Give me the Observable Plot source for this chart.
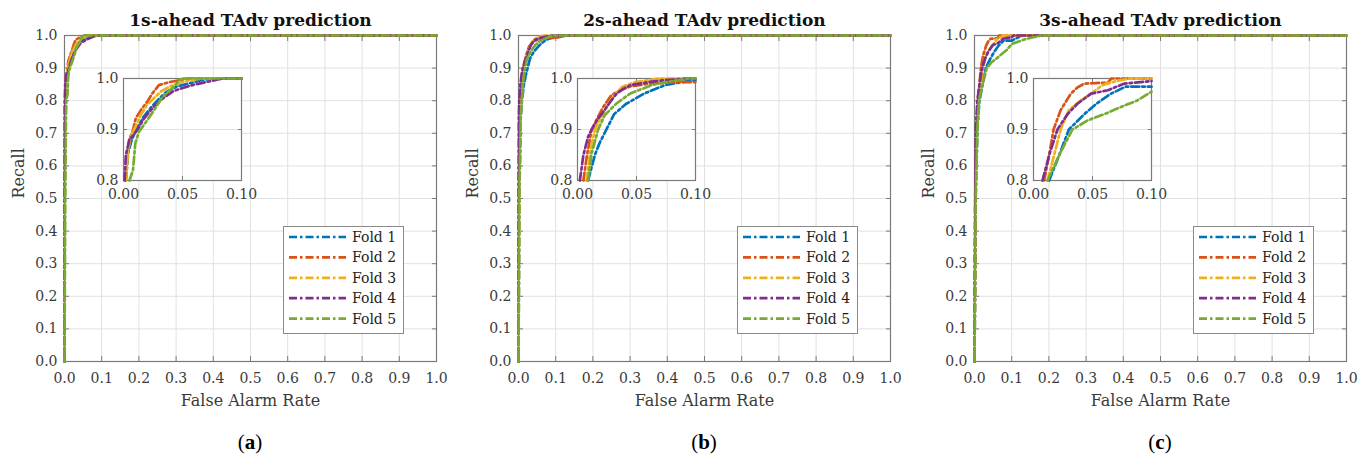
<!DOCTYPE html>
<html><head><meta charset="utf-8">
<script src="https://cdn.jsdelivr.net/npm/d3@7"></script>
<script src="https://cdn.jsdelivr.net/npm/@observablehq/plot@0.6"></script>
<style>
body{margin:0;background:#fff;}
#chart{position:relative;width:1372px;height:463px;font-family:"DejaVu Serif",serif;overflow:hidden;}
.panel{position:absolute;top:0;width:456px;height:463px;}
.panel svg{position:absolute;overflow:visible;}
.legend{position:absolute;left:283px;top:226px;width:121px;height:108px;border:1px solid #8a8a8a;background:#fff;box-sizing:border-box;}
.cap{position:absolute;top:429px;left:64px;width:372px;text-align:center;font-family:"Liberation Serif",serif;font-size:21px;line-height:26px;color:#000;}
</style></head><body><div id="chart"></div><script>
// ---- data ----
const titles = ["1s-ahead TAdv prediction", "2s-ahead TAdv prediction", "3s-ahead TAdv prediction"];
const captions = ["a", "b", "c"];
const folds = ["Fold 1", "Fold 2", "Fold 3", "Fold 4", "Fold 5"];
const axisTicks = [0, 0.1, 0.2, 0.3, 0.4, 0.5, 0.6, 0.7, 0.8, 0.9, 1.0];
const insetXTicks = [0, 0.05, 0.1];
const insetYTicks = [0.8, 0.9, 1.0];
const xLabel = "False Alarm Rate";
const yLabel = "Recall";

// [false alarm rate, recall]
const a_fold1 = [[0,0],[0.0005,0.5],[0.001,0.7],[0.002,0.8],[0.004,0.855],[0.007,0.88],[0.011,0.9],[0.017,0.925],[0.024,0.945],[0.03,0.96],[0.036,0.973],[0.045,0.984],[0.055,0.99],[0.065,0.996],[0.075,1],[0.1,1],[1,1]];
const a_fold2 = [[0,0],[0.0005,0.5],[0.001,0.7],[0.0015,0.8],[0.003,0.85],[0.005,0.882],[0.0076,0.895],[0.0104,0.922],[0.0147,0.938],[0.02,0.954],[0.0245,0.971],[0.03,0.987],[0.039,0.993],[0.049,0.997],[0.054,1],[0.1,1],[1,1]];
const a_fold3 = [[0,0],[0.0005,0.5],[0.001,0.7],[0.002,0.8],[0.004,0.86],[0.006,0.885],[0.01,0.905],[0.015,0.93],[0.02,0.948],[0.026,0.962],[0.032,0.975],[0.04,0.985],[0.05,0.993],[0.06,0.998],[0.068,1],[0.1,1],[1,1]];
const a_fold4 = [[0,0],[0.0005,0.5],[0.001,0.7],[0.001,0.8],[0.002,0.85],[0.005,0.88],[0.008,0.888],[0.012,0.9],[0.017,0.92],[0.022,0.935],[0.028,0.95],[0.034,0.962],[0.042,0.975],[0.051,0.982],[0.06,0.988],[0.07,0.993],[0.08,0.998],[0.085,1],[0.1,1],[1,1]];
const a_fold5 = [[0,0],[0.002,0.5],[0.004,0.75],[0.005,0.8],[0.008,0.82],[0.009,0.846],[0.01,0.873],[0.013,0.895],[0.02,0.918],[0.026,0.938],[0.033,0.964],[0.043,0.984],[0.047,0.997],[0.051,1],[0.1,1],[1,1]];

const b_fold1 = [[0,0],[0.002,0.5],[0.006,0.75],[0.009,0.8],[0.0147,0.85],[0.019,0.875],[0.0245,0.9],[0.031,0.93],[0.041,0.95],[0.056,0.97],[0.074,0.987],[0.094,0.995],[0.1,0.997],[0.11,1],[1,1]];
const b_fold2 = [[0,0],[0.001,0.5],[0.003,0.75],[0.005,0.8],[0.0078,0.846],[0.012,0.9],[0.0175,0.925],[0.0217,0.944],[0.0286,0.967],[0.033,0.973],[0.044,0.984],[0.061,0.99],[0.083,0.993],[0.1,0.993],[0.13,1],[1,1]];
const b_fold3 = [[0,0],[0.002,0.5],[0.005,0.75],[0.0078,0.8],[0.0106,0.853],[0.0147,0.9],[0.019,0.92],[0.023,0.938],[0.03,0.964],[0.038,0.984],[0.049,0.993],[0.069,1],[0.1,1],[1,1]];
const b_fold4 = [[0,0],[0.0005,0.6],[0.001,0.75],[0.002,0.8],[0.005,0.85],[0.009,0.886],[0.012,0.9],[0.017,0.92],[0.023,0.938],[0.028,0.955],[0.033,0.97],[0.039,0.98],[0.045,0.987],[0.06,0.993],[0.075,0.997],[0.094,1],[0.1,1],[1,1]];
const b_fold5 = [[0,0],[0.002,0.5],[0.006,0.75],[0.009,0.8],[0.012,0.853],[0.0175,0.9],[0.023,0.928],[0.033,0.951],[0.045,0.971],[0.063,0.987],[0.08,0.995],[0.094,1],[0.1,1],[1,1]];

const c_fold1 = [[0,0],[0.003,0.5],[0.008,0.72],[0.0133,0.8],[0.0218,0.85],[0.03,0.9],[0.043,0.93],[0.053,0.95],[0.0655,0.97],[0.078,0.984],[0.1,0.984],[0.115,0.993],[0.13,1],[1,1]];
const c_fold2 = [[0,0],[0.002,0.5],[0.005,0.72],[0.009,0.8],[0.0133,0.85],[0.017,0.9],[0.023,0.938],[0.0316,0.97],[0.037,0.982],[0.043,0.99],[0.063,0.992],[0.066,1],[0.1,1],[1,1]];
const c_fold3 = [[0,0],[0.003,0.5],[0.007,0.72],[0.0119,0.8],[0.0175,0.85],[0.023,0.9],[0.03,0.938],[0.04,0.957],[0.0486,0.97],[0.0585,0.987],[0.07,0.995],[0.082,1],[0.1,1],[1,1]];
const c_fold4 = [[0,0],[0.002,0.5],[0.004,0.72],[0.0076,0.8],[0.0133,0.85],[0.0203,0.9],[0.0288,0.93],[0.037,0.95],[0.0486,0.97],[0.063,0.977],[0.077,0.99],[0.1,0.995],[0.105,1],[1,1]];
const c_fold5 = [[0,0],[0.003,0.5],[0.008,0.72],[0.0119,0.8],[0.0218,0.85],[0.033,0.9],[0.046,0.918],[0.06,0.93],[0.074,0.944],[0.088,0.957],[0.1,0.974],[0.14,0.99],[0.18,1],[1,1]];

// ---- style ----
const colors = ["#0072BD", "#D95319", "#EDB120", "#7E2F8E", "#77AC30"];
const dash = "8,3,2.5,3";
const lineW = 2.7;
const gridColor = "#e1e1e1";
const axisColor = "#7a7a7a";
const fnt = "DejaVu Serif";

const panels = [
  {title: titles[0], cap: captions[0], curves: [a_fold1, a_fold2, a_fold3, a_fold4, a_fold5]},
  {title: titles[1], cap: captions[1], curves: [b_fold1, b_fold2, b_fold3, b_fold4, b_fold5]},
  {title: titles[2], cap: captions[2], curves: [c_fold1, c_fold2, c_fold3, c_fold4, c_fold5]}
];
const offsets = [0, 454, 910];
const f1 = d3.format(".1f"), f2 = d3.format(".2f");

function lines(curves, filter) {
  return curves.map((c, i) => Plot.line(filter ? c.filter(filter) : c, {
    x: d => d[0], y: d => d[1], stroke: colors[i], strokeWidth: lineW,
    strokeDasharray: dash, strokeLinejoin: "round"
  }));
}

const chart = document.getElementById("chart");
panels.forEach((p, i) => {
  const div = document.createElement("div");
  div.className = "panel";
  div.style.left = offsets[i] + "px";
  chart.appendChild(div);

  const main = Plot.plot({
    width: 456, height: 420,
    marginLeft: 64, marginRight: 20, marginTop: 35, marginBottom: 59,
    x: {domain: [0, 1]}, y: {domain: [0, 1]},
    style: {fontFamily: fnt, fontSize: "14px", color: "#3a3a3a", background: "transparent", overflow: "visible"},
    marks: [
      Plot.gridX(axisTicks, {stroke: gridColor, strokeOpacity: 1}),
      Plot.gridY(axisTicks, {stroke: gridColor, strokeOpacity: 1}),
      Plot.axisX(axisTicks, {anchor: "bottom", tickSize: -5, tickPadding: 17, tickFormat: f1, stroke: axisColor, label: null, fontSize: 14}),
      Plot.axisX(axisTicks, {anchor: "top", tickSize: -5, tickFormat: () => "", label: null, stroke: axisColor}),
      Plot.axisY(axisTicks, {anchor: "left", tickSize: -5, tickPadding: 12, tickFormat: f1, stroke: axisColor, label: null, fontSize: 14}),
      Plot.axisY(axisTicks, {anchor: "right", tickSize: -5, tickFormat: () => "", label: null, stroke: axisColor}),
      Plot.frame({stroke: axisColor, strokeWidth: 1.2}),
      ...lines(p.curves),
      Plot.text([p.title], {frameAnchor: "top", lineAnchor: "middle", dy: -15, fontWeight: "bold", fontSize: 17, fontFamily: fnt, fill: "#111"}),
      Plot.text([xLabel], {frameAnchor: "bottom", lineAnchor: "middle", dy: 39, fontSize: 16, fontFamily: fnt, fill: "#3a3a3a"}),
      Plot.text([yLabel], {frameAnchor: "left", lineAnchor: "middle", rotate: -90, dx: -46, fontSize: 16, fontFamily: fnt, fill: "#3a3a3a"})
    ]
  });
  main.style.left = "0px"; main.style.top = "0px";
  div.appendChild(main);

  const inset = Plot.plot({
    width: 172, height: 136,
    marginLeft: 40, marginRight: 14, marginTop: 10, marginBottom: 24,
    x: {domain: [0, 0.1]}, y: {domain: [0.8, 1]},
    style: {fontFamily: fnt, fontSize: "14px", color: "#3a3a3a", background: "transparent", overflow: "visible"},
    marks: [
      Plot.frame({fill: "white"}),
      Plot.gridX(insetXTicks, {stroke: gridColor, strokeOpacity: 1}),
      Plot.gridY(insetYTicks, {stroke: gridColor, strokeOpacity: 1}),
      Plot.axisX(insetXTicks, {anchor: "bottom", tickSize: -4, tickPadding: 13, tickFormat: f2, label: null, stroke: axisColor}),
      Plot.axisX(insetXTicks, {anchor: "top", tickSize: -4, tickFormat: () => "", label: null, stroke: axisColor}),
      Plot.axisY(insetYTicks, {anchor: "left", tickSize: -4, tickPadding: 9, tickFormat: f1, label: null, stroke: axisColor}),
      Plot.axisY(insetYTicks, {anchor: "right", tickSize: -4, tickFormat: () => "", label: null, stroke: axisColor}),
      Plot.frame({stroke: axisColor, strokeWidth: 1.2}),
      ...lines(p.curves, d => d[0] <= 0.1 && d[1] >= 0.8)
    ]
  });
  inset.style.left = "83px"; inset.style.top = "68px";
  div.appendChild(inset);

  // legend
  const lg = document.createElement("div");
  lg.className = "legend";
  div.appendChild(lg);
  const svg = d3.select(lg).append("svg").attr("width", 119).attr("height", 106).style("left", "0px").style("top", "0px");
  folds.forEach((name, k) => {
    const yy = 10 + k * 20.4;
    svg.append("line").attr("x1", 5).attr("x2", 62).attr("y1", yy).attr("y2", yy)
      .attr("stroke", colors[k]).attr("stroke-width", lineW).attr("stroke-dasharray", dash);
    svg.append("text").attr("x", 68).attr("y", yy).attr("dy", "0.35em")
      .attr("font-family", fnt).attr("font-size", 14).attr("fill", "#222").text(name);
  });

  const cap = document.createElement("div");
  cap.className = "cap";
  cap.innerHTML = "(<b>" + p.cap + "</b>)";
  div.appendChild(cap);
});
</script></body></html>
